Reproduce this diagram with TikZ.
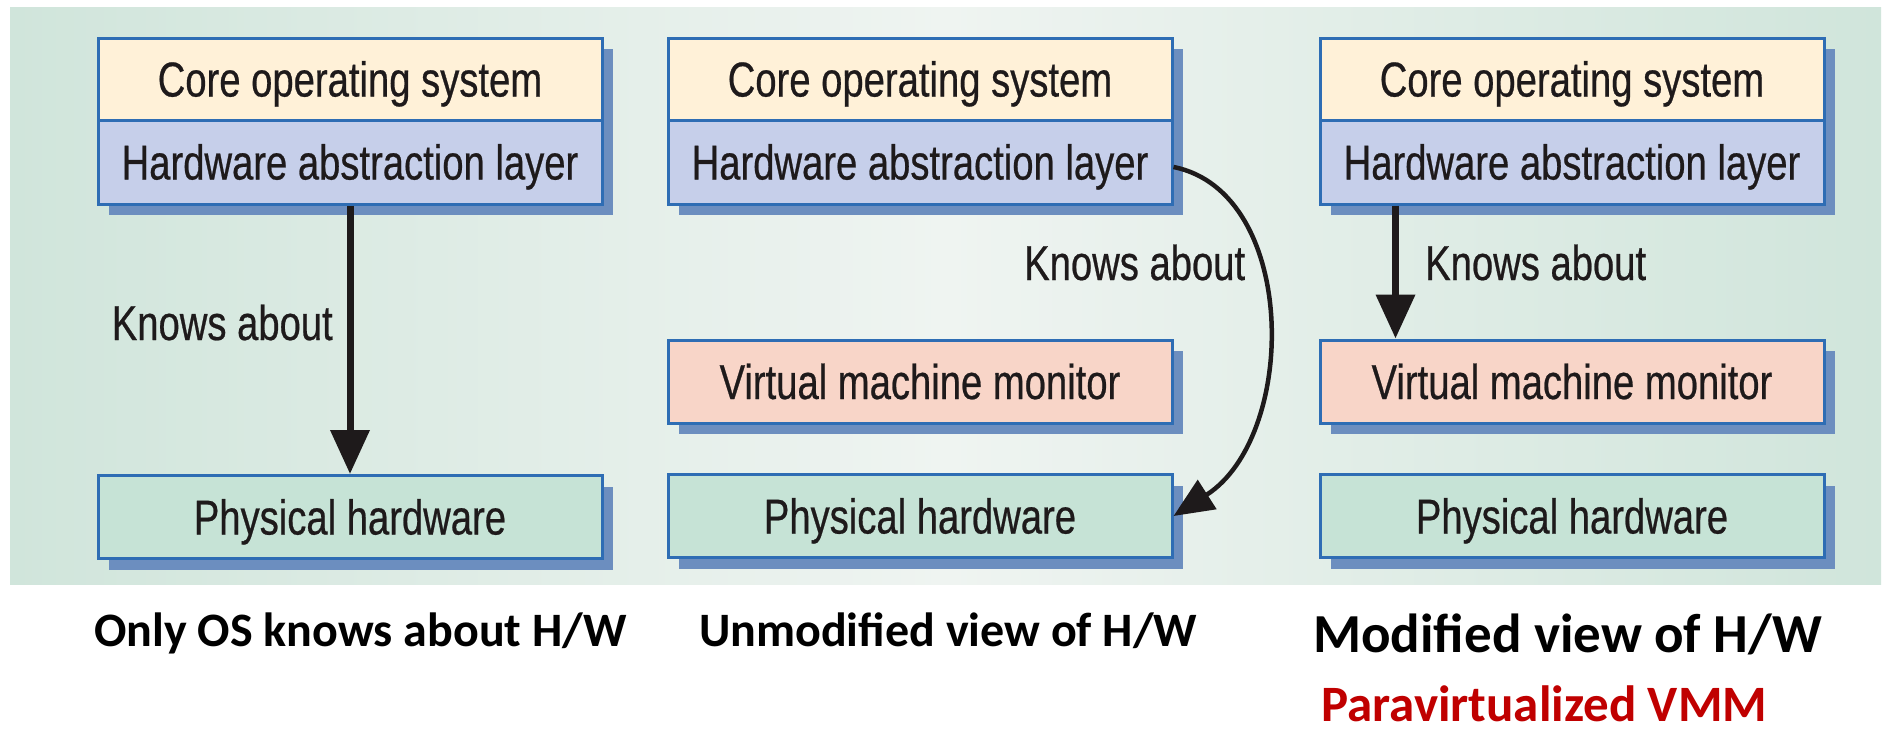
\documentclass[tikz,border=0pt]{standalone}
\usepackage{fontspec}
\setmainfont{Liberation Sans}
\newfontfamily\figfont[FakeStretch=0.78,FakeBold=0.5]{Liberation Sans}
\newfontfamily\capfont{Carlito}
\usetikzlibrary{arrows.meta,shadows}
\definecolor{panelE}{HTML}{D0E5DB}
\definecolor{panelM}{HTML}{EFF4F1}
\definecolor{coreC}{HTML}{FFF1D8}
\definecolor{halC}{HTML}{C6CFEA}
\definecolor{vmmC}{HTML}{F8D5C8}
\definecolor{physC}{HTML}{C6E3D6}
\definecolor{borderC}{HTML}{2E6DB4}
\definecolor{shadowC}{HTML}{6C8EBF}
\definecolor{txtC}{HTML}{1E1A1B}
\definecolor{redC}{HTML}{C00000}
\begin{document}
\begin{tikzpicture}[x=1pt,y=-1pt,
  layer/.style={draw=borderC, line width=3pt, minimum width=504pt, inner sep=0pt,
    text=txtC, font=\figfont\fontsize{49}{58}\selectfont, text height=35pt, text depth=0pt,
    drop shadow={shadow xshift=11pt, shadow yshift=-11pt, fill=shadowC, opacity=1}},
  lbl/.style={inner sep=0pt, text=txtC, font=\figfont\fontsize{49}{58}\selectfont},
  captxt/.style={inner sep=0pt, font=\capfont\bfseries\fontsize{48}{58}\selectfont},
  knows/.style={draw=txtC, line width=7pt, -{Triangle[length=44pt,width=38pt]}},
  knowscurve/.style={draw=txtC, line width=4.5pt, -{Triangle[length=40pt,width=34pt]}}]
\useasboundingbox (0,0) rectangle (1889,734);
\fill[white] (0,0) rectangle (1889,734);
\shade[left color=panelE, right color=panelE, middle color=panelM] (10,7) rectangle (1881,584);

% column 1
\node[layer, fill=coreC, minimum height=82pt] (c1) at (350,79) {Core operating system};
\node[layer, fill=halC, minimum height=84pt] (h1) at (350,162) {Hardware abstraction layer};
\node[layer, fill=physC, minimum height=83pt] (p1) at (350,517) {Physical hardware};
% column 2
\node[layer, fill=coreC, minimum height=82pt] (c2) at (920,79) {Core operating system};
\node[layer, fill=halC, minimum height=84pt] (h2) at (920,162) {Hardware abstraction layer};
\node[layer, fill=vmmC, minimum height=83pt] (v2) at (920,381.5) {Virtual machine monitor};
\node[layer, fill=physC, minimum height=83pt] (p2) at (920,516) {Physical hardware};
% column 3
\node[layer, fill=coreC, minimum height=82pt] (c3) at (1572,79) {Core operating system};
\node[layer, fill=halC, minimum height=84pt] (h3) at (1572,162) {Hardware abstraction layer};
\node[layer, fill=vmmC, minimum height=83pt] (v3) at (1572,381.5) {Virtual machine monitor};
\node[layer, fill=physC, minimum height=83pt] (p3) at (1572,516) {Physical hardware};

% arrows
\draw[knows] (h1.south) -- (p1.north);
\draw[knowscurve] ([yshift=-5pt]h2.east) .. controls +(125,25) and +(125,-80) .. (p2.east);
\draw[knows] ([xshift=77pt]h3.south west) -- ([xshift=77pt]v3.north west);

% labels
\node[lbl, anchor=base east] (k1) at (333,340) {Knows about};
\node[lbl, anchor=base west] (k2) at (1024,280) {Knows about};
\node[lbl, anchor=base west] (k3) at (1425,280) {Knows about};

% captions
\node[captxt, anchor=base west] (t1) at (94,646) {Only OS knows about H/W};
\node[captxt, anchor=base west] (t2) at (699,646) {Unmodified view of H/W};
\node[captxt, anchor=base west, font=\capfont\bfseries\fontsize{55}{64}\selectfont] (t3) at (1313,652) {Modified view of H/W};
\node[captxt, anchor=base west, text=redC, text depth=0pt, font=\capfont\bfseries\fontsize{51}{60}\selectfont] (t4) at (1321,721) {Paravirtualized VMM};
\end{tikzpicture}
\end{document}
